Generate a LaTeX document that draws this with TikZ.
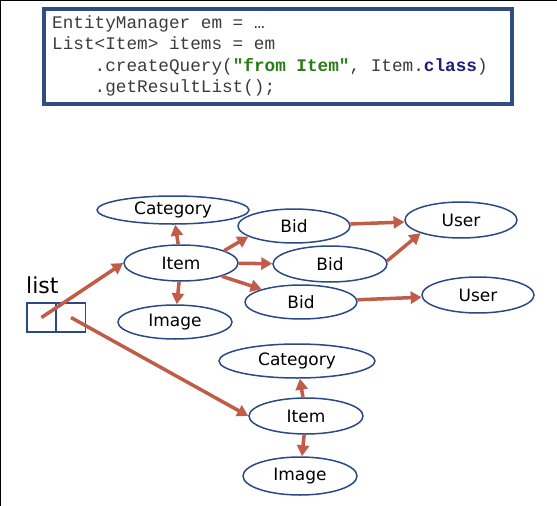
\documentclass[tikz,border=0pt]{standalone}
\usepackage{fontspec}
\usetikzlibrary{arrows.meta,shapes.geometric}
\newfontfamily\codefont{Liberation Mono}
\newfontfamily\labelfont{DejaVu Sans}

\definecolor{boxblue}{RGB}{47,77,128}
\definecolor{edgeblue}{RGB}{43,74,133}
\definecolor{relred}{RGB}{192,92,72}
\definecolor{codegray}{RGB}{60,60,60}
\definecolor{strgreen}{RGB}{42,125,20}
\definecolor{kwnavy}{RGB}{30,30,128}

\tikzset{
  ent/.style={ellipse, draw=edgeblue, line width=1.5pt, inner sep=0pt,
    font=\labelfont\fontsize{17}{20}\selectfont},
  rel/.style={draw=relred, line width=3.5pt, -{Triangle[length=11pt,width=12pt]}},
  codeline/.style={anchor=base west, inner sep=0pt, text=codegray,
    font=\codefont\fontsize{17.7}{21.3}\selectfont},
  cell/.style={draw=edgeblue, line width=1.5pt, minimum width=29pt,
    minimum height=29pt, inner sep=0pt}
}

\begin{document}
\begin{tikzpicture}[x=1pt, y=-1pt]
  \useasboundingbox (0,0) rectangle (557,506);
  \fill[white] (0,0) rectangle (557,506);

  % --- frame edges ---
  \draw[line width=2pt] (0,506) -- (0,0) -- (557,0);

  % --- query code ---
  \node[draw=boxblue, line width=4pt, minimum width=468pt, minimum height=95pt,
    anchor=north west, inner sep=0pt] (codebox) at (42,7) {};
  \node[codeline] (code1) at (52,28) {EntityManager em = \textcolor{kwnavy}{…}};
  \node[codeline] (code2) at (52,49.5) {List<Item> items = em};
  \node[codeline] (code3) at (52,71) {\ \ \ \ .createQuery(\textcolor{strgreen}{\bfseries"from Item"}, Item.\textcolor{kwnavy}{\bfseries class})};
  \node[codeline] (code4) at (52,92.5) {\ \ \ \ .getResultList();};

  % --- result list ---
  \node[anchor=base west, inner sep=0pt, font=\labelfont\fontsize{22}{26}\selectfont] (listlabel) at (26,293) {list};
  \node[cell] (cellA) at (41.5,317.5) {};
  \node[cell] (cellB) at (71,317.5) {};

  % --- first item graph ---
  \node[ent, minimum width=152pt, minimum height=28pt] (cat1) at (173,210) {Category};
  \node[ent, minimum width=114pt, minimum height=36pt] (item1) at (181,263) {Item};
  \node[ent, minimum width=114pt, minimum height=34pt] (img1) at (175,322) {Image};
  \node[ent, minimum width=112pt, minimum height=34pt] (bid1) at (294,226) {Bid};
  \node[ent, minimum width=114pt, minimum height=36pt] (bid2) at (330,264) {Bid};
  \node[ent, minimum width=112pt, minimum height=34pt] (bid3) at (301,302) {Bid};
  \node[ent, minimum width=112pt, minimum height=36pt] (user1) at (461,220) {User};
  \node[ent, minimum width=112pt, minimum height=36pt] (user2) at (478,295) {User};

  % --- second item graph ---
  \node[ent, minimum width=156pt, minimum height=34pt] (cat2) at (297,361) {Category};
  \node[ent, minimum width=114pt, minimum height=36pt] (item2) at (306,416) {Item};
  \node[ent, minimum width=114pt, minimum height=38pt] (img2) at (300,476) {Image};

  % --- references ---
  \draw[rel] (cellA.center) -- (item1.west);
  \draw[rel] (cellB.center) -- (item2.west);
  \draw[rel] (item1) -- (cat1);
  \draw[rel] (item1) -- (img1);
  \draw[rel] (item1.16) -- (bid1.193);
  \draw[rel] (item1) -- (bid2);
  \draw[rel] (item1) -- (bid3);
  \draw[rel] (bid1) -- (user1);
  \draw[rel] (bid2.3) -- (user1.198);
  \draw[rel] (bid3) -- (user2);
  \draw[rel] (item2) -- (cat2);
  \draw[rel] (item2) -- (img2);

\end{tikzpicture}
\end{document}
